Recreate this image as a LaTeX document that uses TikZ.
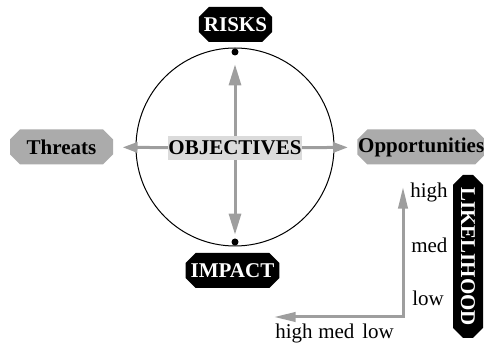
\documentclass[tikz,border=0pt]{standalone}
\usepackage{fontspec}
\setmainfont{Liberation Serif}
\usetikzlibrary{backgrounds}
\usetikzlibrary{positioning}
\usetikzlibrary{shapes.misc}
\usetikzlibrary{arrows.meta}

\begin{document}
\begin{tikzpicture}[x=0.6pt,y=-0.6pt,
  every node/.style={font=\fontsize{12.6}{15}\selectfont},
  vtip/.tip={Triangle[length=12.6pt,width=7.2pt]},
  htip/.tip={Triangle[length=9pt,width=6pt]},
  atip/.tip={Triangle[length=13pt,width=5.6pt]},
  tag/.style={chamfered rectangle,chamfered rectangle xsep=3pt,chamfered rectangle ysep=3pt,
    minimum height=21pt,inner sep=0pt,font=\fontsize{12.6}{15}\selectfont\bfseries},
  dark/.style={tag,fill=black,text=white},
  pale/.style={tag,fill=black!33},
  arr/.style={draw=black!38,line width=1.8pt},
  dot/.style={circle,fill=black,inner sep=0pt,minimum size=4.2pt},
  lbl/.style={inner sep=0pt,anchor=base west}]
\useasboundingbox (0,0) rectangle (484,347);
\node[fill=black!14,inner xsep=0.5pt,inner ysep=0pt,minimum height=14.4pt,font=\fontsize{12.6}{15}\selectfont\bfseries](obj) at (235,148) {OBJECTIVES};
\node[dark,minimum width=41.4pt](risks) at (235.5,24.5) {RISKS};
\node[dark,minimum width=54.6pt](impact) at (232.5,270.5) {IMPACT};
\node[pale,minimum width=61.8pt](threats) at (61.5,147) {Threats};
\node[pale,inner xsep=-2.5pt,anchor=west](opps) at (357,147) {Opportunities};
\node[dark,rotate=-90,minimum width=97.8pt,minimum height=18pt](lik) at (468,256.5) {LIKELIHOOD};
\node[dot](topdot) at (235,52) {};
\node[dot](botdot) at (235,242) {};

\node[lbl](yhigh) at (410,198) {high};
\node[lbl](ymed) at (411,253) {med};
\node[lbl](ylow) at (412,306) {low};
\node[lbl](xhigh) at (275,339) {high};
\node[lbl](xmed) at (318,339) {med};
\node[lbl](xlow) at (362,339) {low};

\coordinate(org) at (403,317);
\coordinate(ytop) at (403,187);
\coordinate(xend) at (274,317);

\begin{scope}[on background layer]
\node[draw,semithick,circle,minimum size=118.8pt](ring) at (235,147) {};
\draw[arr,-vtip,shorten >=5.1pt] (obj.center)--(topdot);
\draw[arr,-vtip,shorten >=2.1pt] (obj.center)--(botdot);
\draw[arr,-htip,shorten >=5.5pt] (obj.center)--(threats);
\draw[arr,-htip,shorten >=5.4pt] (obj.center)--(opps);
\end{scope}
\draw[arr,atip-atip] (ytop)--(org)--(xend);
\end{tikzpicture}
\end{document}
